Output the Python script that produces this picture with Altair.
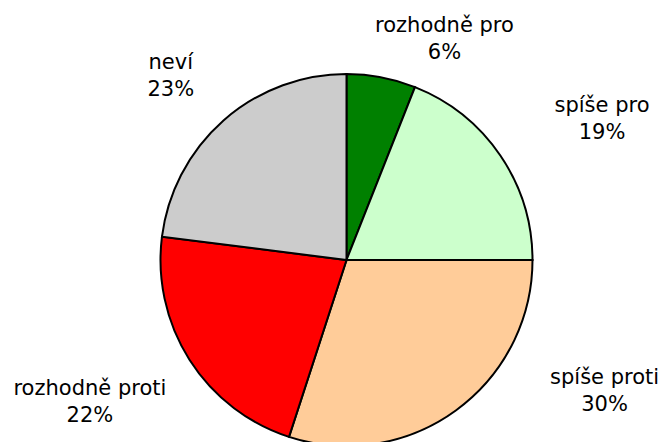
import altair as alt
import pandas as pd

categories = ["rozhodně pro", "spíše pro", "spíše proti", "rozhodně proti", "neví"]
values = [6, 19, 30, 22, 23]
colors = ["#008000", "#ccffcc", "#ffcc99", "#ff0000", "#cccccc"]

df = pd.DataFrame({
    "category": categories,
    "value": values,
    "order": list(range(len(categories))),
})
df["label"] = [f"{c}\n{v}%" for c, v in zip(categories, values)]

CX, CY, R = 338.5, 252, 186
LABEL_R = 240
# per-label nudges (style), pixels
nudges = {
    "rozhodně pro": (53, 2),
    "spíše pro": (57, -19),
    "spíše proti": (117, -76),
    "rozhodně proti": (-54, 0),
    "neví": (-17, -17),
}

theta_scale = alt.Scale(domain=[0, 100])

base = alt.Chart(df)

pie = base.mark_arc(radius=R, stroke="black", strokeWidth=2).encode(
    theta=alt.Theta("value:Q", stack=True, scale=theta_scale),
    color=alt.Color("category:N", scale=alt.Scale(domain=categories, range=colors), legend=None),
    order=alt.Order("order:Q"),
    x=alt.value(CX),
    y=alt.value(CY),
)

layers = [pie]
for cat in categories:
    dx, dy = nudges[cat]
    t = (
        base.transform_window(cum="sum(value)", sort=[alt.SortField("order")], frame=[None, 0])
        .transform_calculate(mid="datum.cum - datum.value / 2")
        .transform_filter(alt.datum.category == cat)
        .mark_text(
            radius=LABEL_R, dx=dx, dy=dy, align="center", baseline="middle",
            font="DejaVu Sans", fontSize=21, lineBreak="\n", lineHeight=27, color="black",
        )
        .encode(
            theta=alt.Theta("mid:Q", stack=False, scale=theta_scale),
            text="label:N",
            x=alt.value(CX),
            y=alt.value(CY),
        )
    )
    layers.append(t)

chart = alt.layer(*layers).properties(
    width=653, height=434, padding=0,
    autosize=alt.AutoSizeParams(type="none"),
).configure_view(stroke=None)

chart.save("out.html", embed_options={"renderer": "svg", "actions": False})
